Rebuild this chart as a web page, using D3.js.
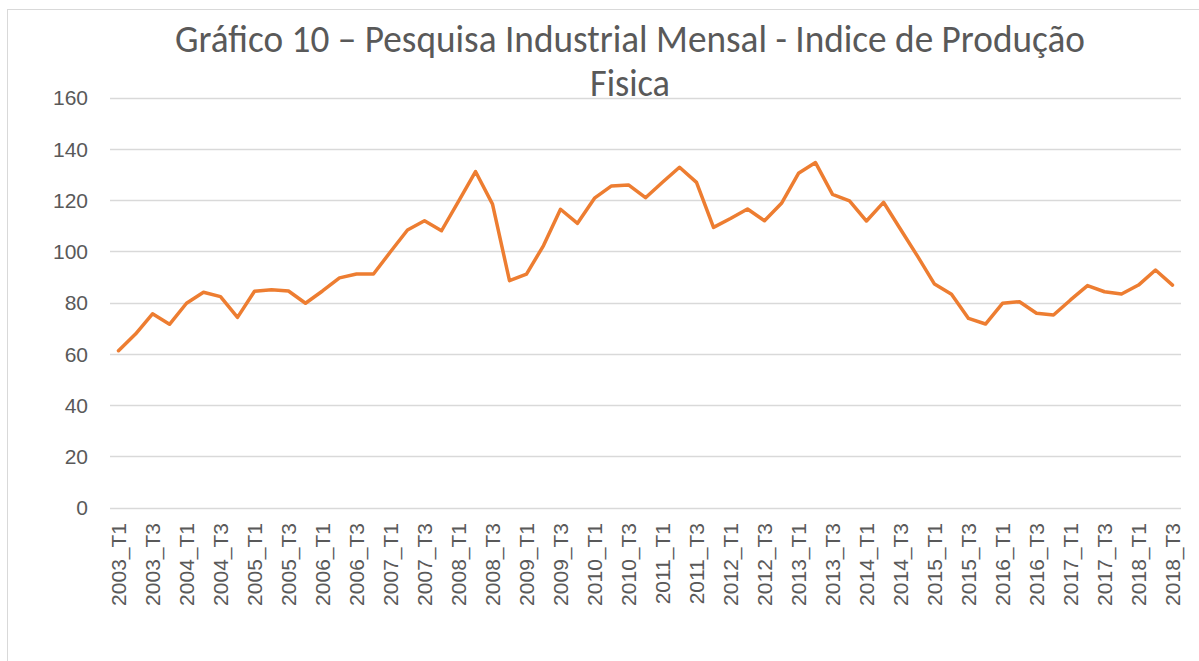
<!DOCTYPE html>
<html>
<head>
<meta charset="utf-8">
<script src="https://cdn.jsdelivr.net/npm/d3@7"></script>
<style>
  body { margin: 0; background: #fff; }
  text { fill: #595959; }
</style>
</head>
<body>
<div id="chart"></div>
<script>
// categorias trimestrais 2003_T1 .. 2018_T3
var years = d3.range(2003, 2019);
var quarters = ["T1", "T2", "T3", "T4"];

var categories = [];
years.forEach(function(y) {
    quarters.forEach(function(q) {
        if (y === 2018 && q === "T4") return;
        categories.push(y + "_" + q);
    });
});

var values = [
    61.2, 67.7, 75.6, 71.5, 79.7, 84.0, 82.3, 74.2,
    84.4, 85.0, 84.5, 79.7, 84.5, 89.6, 91.1, 91.1,
    99.8, 108.3, 111.9, 108.0, 119.5, 131.1, 118.4, 88.5,
    91.1, 102.2, 116.4, 110.9, 120.7, 125.5, 125.9, 120.9,
    126.9, 132.8, 126.9, 109.3, 112.8, 116.5, 111.9, 118.7,
    130.4, 134.6, 122.2, 119.7, 111.8, 119.1, 108.6, 98.1,
    87.2, 83.2, 73.8, 71.6, 79.7, 80.3, 75.8, 75.1,
    81.0, 86.6, 84.2, 83.3, 86.8, 92.7, 86.8
];

var yTicks = [0, 20, 40, 60, 80, 100, 120, 140, 160];

var titleLines = ["Gráfico 10 – Pesquisa Industrial Mensal - Indice de Produção", "Fisica"];

var w = 1199;
var h = 661;
var plotLeft = 110, plotRight = 1181, plotTop = 97.5, plotBottom = 507.5;
var labelFont = "'Liberation Sans', Arial, sans-serif";
var titleFont = "Carlito, Calibri, 'Open Sans', sans-serif";

var svg = d3.select("#chart")
            .append("svg")
            .attr("width", w)
            .attr("height", h);

// moldura do gráfico
svg.append("rect")
    .attr("x", 7.5)
    .attr("y", 9.5)
    .attr("width", 1200)
    .attr("height", 700)
    .attr("fill", "none")
    .attr("stroke", "#d9d9d9");

var xscale = d3.scaleBand()
                .domain(categories)
                .range([plotLeft, plotRight]);

var yscale = d3.scaleLinear()
                .domain([0, 160])
                .range([plotBottom, plotTop]);

// grade
svg.append("g")
    .selectAll("line")
    .data(yTicks)
    .enter()
    .append("line")
    .attr("x1", plotLeft)
    .attr("x2", plotRight)
    .attr("y1", function(d) { return Math.round(yscale(d)) + 0.5; })
    .attr("y2", function(d) { return Math.round(yscale(d)) + 0.5; })
    .attr("stroke", "#d9d9d9")
    .attr("stroke-width", 1.3);

var yaxis = d3.axisLeft(yscale).tickValues(yTicks).tickSize(0).tickPadding(0);
svg.append("g")
    .attr("class", "y axis")
    .attr("transform", "translate(88,0)")
    .call(yaxis)
    .call(function(g) { g.select(".domain").remove(); })
    .selectAll("text")
    .attr("font-family", labelFont)
    .attr("font-size", 21)
    .attr("fill", "#595959")
    .attr("dy", "0.35em");

var xaxis = d3.axisBottom(xscale)
                .tickValues(categories.filter(function(d, i) { return i % 2 === 0; }))
                .tickSize(0);
svg.append("g")
    .attr("class", "x axis")
    .attr("transform", "translate(0," + (plotBottom + 15.5) + ")")
    .call(xaxis)
    .call(function(g) { g.select(".domain").remove(); })
    .selectAll("text")
    .attr("font-family", labelFont)
    .attr("font-size", 21)
    .attr("fill", "#595959")
    .attr("transform", "rotate(-90)")
    .attr("text-anchor", "end")
    .attr("x", 0)
    .attr("y", 0)
    .attr("dy", "0.35em");

var line = d3.line()
    .x(function(d, i) { return xscale(categories[i]) + xscale.bandwidth() / 2; })
    .y(function(d) { return yscale(d); });

svg.append("path")
    .datum(values)
    .attr("d", line)
    .attr("fill", "none")
    .attr("stroke", "#ED7D31")
    .attr("stroke-width", 3.5)
    .attr("stroke-linejoin", "round")
    .attr("stroke-linecap", "round");

// título
svg.append("text")
    .attr("x", 630)
    .attr("y", 52)
    .attr("text-anchor", "middle")
    .attr("font-family", titleFont)
    .attr("font-size", 38)
    .attr("textLength", 910)
    .attr("lengthAdjust", "spacingAndGlyphs")
    .text(titleLines[0]);

svg.append("text")
    .attr("x", 630)
    .attr("y", 96)
    .attr("text-anchor", "middle")
    .attr("font-family", titleFont)
    .attr("font-size", 38)
    .attr("textLength", 80)
    .attr("lengthAdjust", "spacingAndGlyphs")
    .text(titleLines[1]);
</script>
</body>
</html>
